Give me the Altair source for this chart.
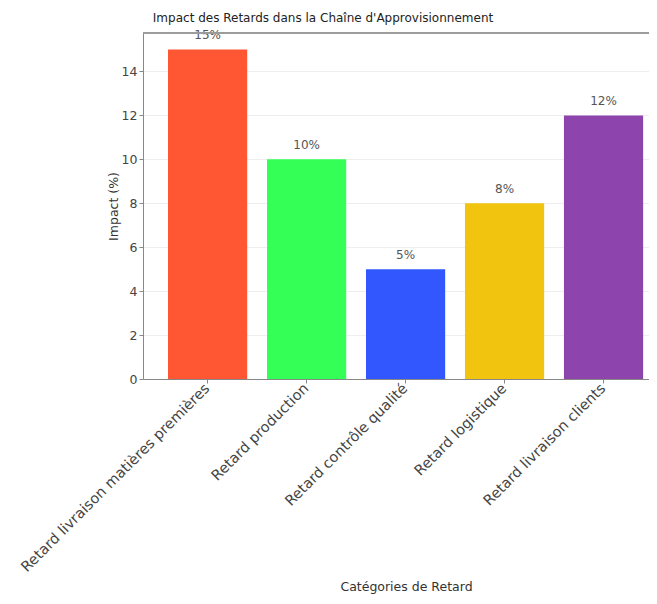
import altair as alt
import pandas as pd

categories = [
    "Retard livraison matières premières",
    "Retard production",
    "Retard contrôle qualité",
    "Retard logistique",
    "Retard livraison clients",
]
impacts = [15, 10, 5, 8, 12]
colors = ["#FF5733", "#33FF57", "#3357FF", "#F1C40F", "#8E44AD"]
labels = [f"{v}%" for v in impacts]
y_ticks = [0, 2, 4, 6, 8, 10, 12, 14]

df = pd.DataFrame({"cat": categories, "impact": impacts, "label": labels})

FONT = "DejaVu Sans"
W = 506
H = 346

x = alt.X(
    "cat:N",
    sort=categories,
    scale=alt.Scale(paddingInner=0.2, paddingOuter=0.156, align=0.81),
    axis=alt.Axis(
        title="Catégories de Retard",
        labelAngle=-45,
        labelAlign="right",
        labelBaseline="middle",
        labelFontSize=14.5,
        labelColor="#444",
        labelPadding=3,
        labelLimit=0,
        tickSize=4,
        tickColor="#888",
        domainColor="#888",
        titleFontSize=12.5,
        titleFontWeight="normal",
        titleColor="#333",
        titleY=201,
        titleX=263,
        grid=False,
    ),
)
y_axis = alt.Axis(
    title="Impact (%)",
    values=y_ticks,
    labelFontSize=12.5,
    labelColor="#444",
    tickSize=4,
    tickColor="#888",
    domainColor="#888",
    gridColor="#eeeeee",
    titleFontSize=12.5,
    titleFontWeight="normal",
    titleColor="#333",
    titleX=-30,
    titleBaseline="middle",
)

base = alt.Chart(df)
bars = base.mark_bar().encode(
    x=x,
    y=alt.Y("impact:Q", scale=alt.Scale(domain=[0, 15.75], nice=False), axis=y_axis),
    color=alt.Color("cat:N", sort=categories,
                    scale=alt.Scale(domain=categories, range=colors), legend=None),
)
text = base.mark_text(dy=-14, fontSize=12, color="#555", font=FONT).encode(
    x=alt.X("cat:N", sort=categories),
    y=alt.Y("impact:Q"),
    text="label:N",
)
top_border = alt.Chart(df).mark_rule(color="#999", strokeWidth=1).encode(
    x=alt.value(0), x2=alt.value(W), y=alt.value(0)
)

chart = (
    (bars + text + top_border)
    .properties(
        width=W,
        height=H,
        title=alt.Title(
            "Impact des Retards dans la Chaîne d'Approvisionnement",
            fontSize=12,
            fontWeight="normal",
            color="#222",
            font=FONT,
            dx=-73,
            offset=4,
        ),
        autosize=alt.AutoSizeParams(type="none"),
        padding={"left": 135, "top": 25, "right": 0, "bottom": 217},
    )
    .configure(font=FONT)
    .configure_view(stroke=None)
    .configure_axis(labelFont=FONT, titleFont=FONT)
)

chart.save("out.html", embed_options={"renderer": "svg", "actions": False})
